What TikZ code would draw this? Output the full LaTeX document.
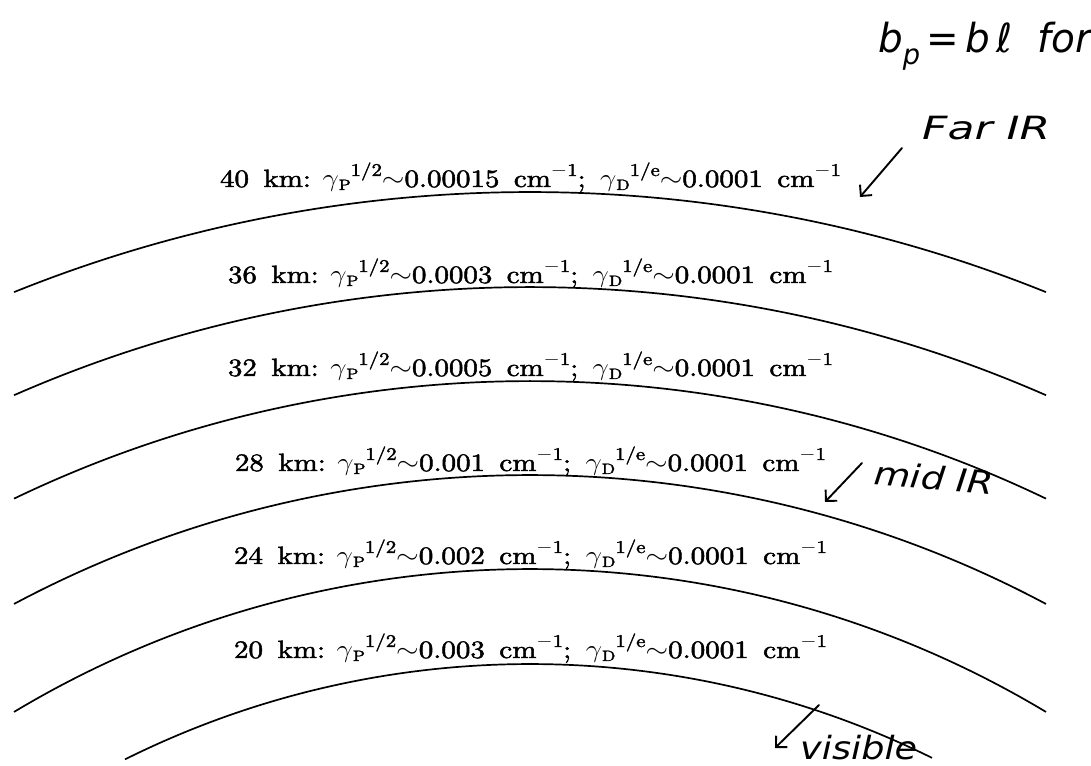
\RequirePackage{fix-cm}
\documentclass[tikz,border=0pt]{standalone}
\usepackage{fontspec}
\usepackage{graphicx}
\usetikzlibrary{arrows.meta}
\newfontfamily\handfont{DejaVu Sans}
\newfontfamily\rowfont{lmroman10-regular.otf}[FakeBold=1.8]
\newsavebox\fitbox
\newcommand\fitto[2]{\sbox\fitbox{#2}\pgfmathsetmacro\fitsx{#1/\the\wd\fitbox}\scalebox{\fitsx}[1]{\usebox\fitbox}}
\newcommand\gsub[1]{\raisebox{-3pt}{\fontsize{15}{15}\selectfont #1}}
\newcommand\gsup[1]{\raisebox{11pt}{\fontsize{18}{18}\selectfont #1}}
\newcommand\lrow[2]{#1\hspace{0.5em}km:\hspace{0.4em}$\gamma$\gsub{P}\gsup{1/2}$\sim$#2\hspace{0.5em}cm\gsup{$-$1};\hspace{0.5em}$\gamma$\gsub{D}\gsup{1/e}$\sim$0.0001\hspace{0.5em}cm\gsup{$-$1}}
\tikzset{
  arcline/.style={line width=1.7pt, black},
  rowtext/.style={inner sep=0pt, anchor=base, font=\rowfont\fontsize{25}{29}\selectfont},
  hand/.style={inner sep=0pt, anchor=base west, font=\handfont\itshape\fontsize{32}{36}\selectfont},
  handarrow/.style={line width=1.9pt, line cap=round, -{Straight Barb[length=8pt,width=16pt,line width=1.9pt]}}
}
\begin{document}
\begin{tikzpicture}[x=1pt,y=1pt]
\useasboundingbox (0,0) rectangle (1091,765);
\coordinate (C) at (530,-807);
% concentric atmospheric layers
\foreach \r in {1380,1285,1191,1097,1003}{
  \draw[arcline] (C) ++({90+asin(516/\r)}:\r) arc[start angle={90+asin(516/\r)}, end angle={90-asin(516/\r)}, radius=\r];
}
\draw[arcline] (C) ++({90+asin(405/908)}:908) arc[start angle={90+asin(405/908)}, end angle={90-asin(402/908)}, radius=908];
% labels
\node[rowtext] (r40) at (530.5,578) {\fitto{621}{\lrow{40}{0.00015}}};
\node[rowtext] (r36) at (530.5,482) {\fitto{605}{\lrow{36}{0.0003}}};
\node[rowtext] (r32) at (530.5,389) {\fitto{605}{\lrow{32}{0.0005}}};
\node[rowtext] (r28) at (530.5,294) {\fitto{591}{\lrow{28}{0.001}}};
\node[rowtext] (r24) at (530.5,201) {\fitto{593}{\lrow{24}{0.002}}};
\node[rowtext] (r20) at (530.5,107) {\fitto{593}{\lrow{20}{0.003}}};
% handwritten notes
\node[hand, font=\handfont\itshape\fontsize{40}{44}\selectfont] (bp) at (878,712) {\fitto{213}{b\raisebox{-0.3em}{\fontsize{28}{28}\selectfont p}\,=\,b\,ℓ\ \ for}};
\node[hand] (far) at (922,625) {\fitto{128}{Far IR}};
\node[hand, rotate=-5] (mid) at (873,281) {\fitto{120}{mid IR}};
\node[hand] (vis) at (800,6) {\fitto{117}{visible}};
\coordinate (farT) at (902,617);
\coordinate (farH) at (860,568);
\coordinate (midT) at (862,302);
\coordinate (midH) at (825,263);
\coordinate (visT) at (819,60);
\coordinate (visH) at (775,17);
\draw[handarrow] (farT) -- (farH);
\draw[handarrow] (midT) -- (midH);
\draw[handarrow] (visT) -- (visH);
\end{tikzpicture}
\end{document}
